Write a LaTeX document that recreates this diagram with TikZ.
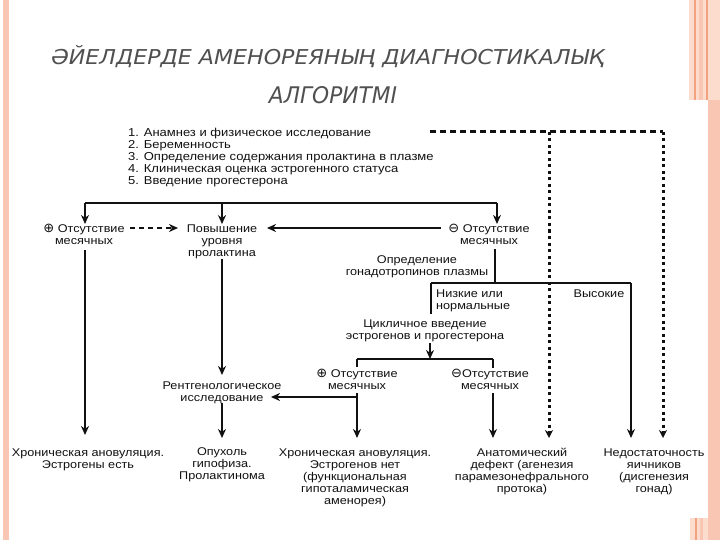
\documentclass[tikz,border=0pt]{standalone}
\usepackage{graphicx}
\usepackage{fontspec}
\setmainfont{Liberation Sans}
\newfontfamily\diagfont{Liberation Sans}[FakeStretch=1.13]
\newfontfamily\symfont{DejaVu Sans}
\newfontfamily\titlefont{DejaVu Sans}
\usetikzlibrary{arrows.meta}
\definecolor{salmon}{HTML}{F8C6B2}
\definecolor{salmonlt}{HTML}{FCDCCD}
\definecolor{salmondk}{HTML}{F2A27E}
\definecolor{titlegray}{HTML}{505050}
\definecolor{ink}{HTML}{111111}
\newcommand{\plussym}{\raisebox{-0.5pt}{\symfont\fontsize{13}{12}\selectfont ⊕}}
\newcommand{\minussym}{\raisebox{-0.5pt}{\symfont\fontsize{13}{12}\selectfont ⊖}}
\begin{document}
\begin{tikzpicture}[x=1pt,y=-1pt,
  lbl/.style={font=\diagfont\fontsize{11.2}{12}\selectfont, align=center, inner sep=0pt, text=ink, anchor=base},
  lstyle/.style={font=\diagfont\fontsize{11.5}{12}\selectfont, align=left, inner sep=0pt, text=ink, anchor=base west},
  conn/.style={line width=2.4pt, draw=ink, -{Stealth[length=9pt,width=8pt]}},
  plain/.style={line width=2.4pt, draw=ink},
  dashconn/.style={line width=2.4pt, draw=ink, dash pattern=on 5pt off 4pt, -{Stealth[length=9pt,width=8pt]}},
  dotconn/.style={line width=3pt, draw=ink, dash pattern=on 3pt off 3.5pt, -{Stealth[length=8pt,width=8pt]}},
  dashline/.style={line width=3pt, draw=ink, dash pattern=on 6pt off 4pt}
]
\useasboundingbox (0,0) rectangle (720,540);
\fill[white] (0,0) rectangle (720,540);
% decorations
\fill[salmon] (3,0) rectangle (8.5,540);
\fill[salmonlt] (689,0) rectangle (720,100);
\fill[salmondk] (694,0) rectangle (696,100);
\fill[salmon] (699,0) rectangle (703,100);
\fill[salmondk] (706,0) rectangle (707.5,100);
\fill[salmon] (708,100) rectangle (720,540);
\fill[salmonlt] (690,518) rectangle (708,540);
\fill[salmondk] (695,518) rectangle (697,540);
\fill[salmon] (700,518) rectangle (703,540);

% title
\node[inner sep=0pt, text=titlegray] (t1) at (328,57) {\resizebox{553pt}{19pt}{\titlefont\itshape ӘЙЕЛДЕРДЕ АМЕНОРЕЯНЫҢ ДИАГНОСТИКАЛЫҚ}};
\node[inner sep=0pt, text=titlegray] (t2) at (333,95) {\resizebox{128pt}{17pt}{\titlefont\itshape АЛГОРИТМІ}};

% list (base = last line)
\node[lstyle] (list) at (128,185) {1. Анамнез и физическое исследование\\2. Беременность\\3. Определение содержания пролактина в плазме\\4. Клиническая оценка эстрогенного статуса\\5. Введение прогестерона};

% text nodes (anchor base = baseline of last line)
\node[lbl] (pm1) at (84,244) {\plussym\ Отсутствие\\месячных};
\node[lbl] (prl) at (222,256) {Повышение\\уровня\\пролактина};
\node[lbl] (mn1) at (489,244) {\minussym\ Отсутствие\\месячных};
\node[lbl] (gon) at (417,275) {Определение\\гонадотропинов плазмы};
\node[lbl, anchor=base west, align=left] (low) at (436,309) {Низкие или\\нормальные};
\node[lbl] (high) at (599,297) {Высокие};
\node[lbl] (cyc) at (425,339) {Цикличное введение\\эстрогенов и прогестерона};
\node[lbl] (pm2) at (357,389) {\plussym\ Отсутствие\\месячных};
\node[lbl] (mn2) at (490,389) {\minussym Отсутствие\\месячных};
\node[lbl] (rtg) at (222,401) {Рентгенологическое\\исследование};
\node[lbl] (b1) at (88,468) {Хроническая ановуляция.\\Эстрогены есть};
\node[lbl] (b2) at (222,479) {Опухоль\\гипофиза.\\Пролактинома};
\node[lbl] (b3) at (355,504) {Хроническая ановуляция.\\Эстрогенов нет\\(функциональная\\гипоталамическая\\аменорея)};
\node[lbl] (b4) at (522,492) {Анатомический\\дефект (агенезия\\парамезонефрального\\протока)};
\node[lbl] (b5) at (654,492) {Недостаточность\\яичников\\(дисгенезия\\гонад)};

% junction coordinates
\coordinate (jL) at (85,203);
\coordinate (jM) at (222,203);
\coordinate (jR) at (497,203);
\coordinate (gA) at (495,283);
\coordinate (gL) at (431,283);
\coordinate (gR) at (631,283);
\coordinate (gLb) at (431,314);
\coordinate (cT) at (430,343);
\coordinate (cM) at (430,359);
\coordinate (cL) at (357,359);
\coordinate (cR) at (493,359);
\coordinate (cLb) at (357,367);
\coordinate (cRb) at (493,368);
\coordinate (hJ) at (357,397);
\coordinate (hE) at (271,397);
\coordinate (dS) at (430,132);
\coordinate (dM) at (549,132);
\coordinate (dR) at (663,132);

% top distribution line
\draw[plain] (jL) -- (jR);
\draw[conn] (jL) -- (jL |- pm1.north);
\draw[conn] (jM) -- (jM |- prl.north);
\draw[conn] (jR) -- (jR |- mn1.north);

% row 2 horizontal arrows
\draw[dashconn] (130,228) -- (178,228);
\draw[conn] (441,228) -- (267,228);

% left column
\draw[conn] (85,250) -- (85,435);
% prolactin column
\draw[conn] (prl.south) -- (222,375);
\draw[conn] (rtg.south) -- (222,438);

% gonadotropin branch
\draw[plain] (495,249) -- (gA);
\draw[plain] (gL) -- (gR);
\draw[plain] (gL) -- (gLb);
\draw[conn] (gR) -- (631,438);

% cyclic
\draw[conn] (cT) -- (cM);
\draw[plain] (cL) -- (cR);
\draw[plain] (cL) -- (cLb);
\draw[plain] (cR) -- (cRb);
\draw[conn] (357,393) -- (357,438);
\draw[conn] (hJ) -- (hE);
\draw[conn] (493,393) -- (493,438);

% dotted lines
\draw[dashline] (dS) -- (dR);
\draw[dotconn] (dM) -- (549,438);
\draw[dotconn] (dR) -- (663,438);
\end{tikzpicture}
\end{document}
